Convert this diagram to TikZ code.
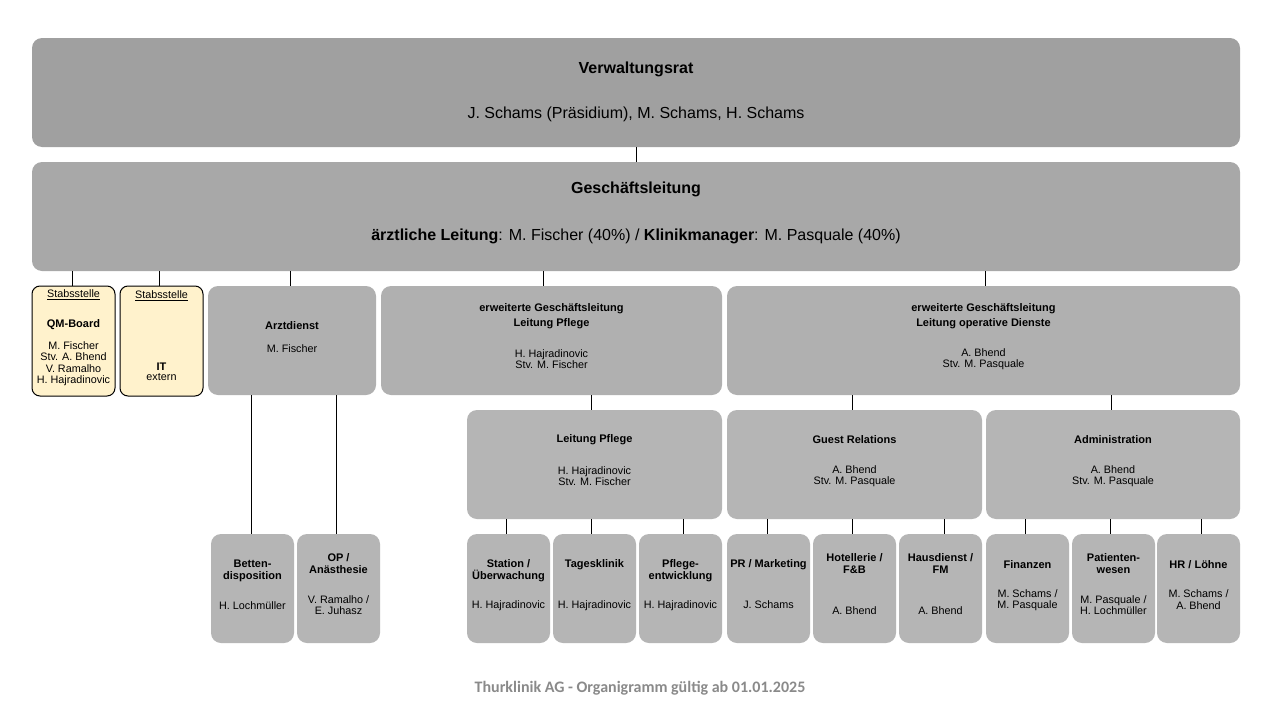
\documentclass[tikz,border=0pt]{standalone}
\usepackage{fontspec}
\setmainfont{Liberation Sans}
\newfontfamily\footfont{Carlito}
\definecolor{vrgray}{RGB}{160,160,160}
\definecolor{glgray}{RGB}{168,168,168}
\definecolor{lvtwo}{RGB}{176,176,176}
\definecolor{lvthree}{RGB}{181,181,181}
\definecolor{cream}{RGB}{255,242,204}
\definecolor{footgray}{RGB}{138,138,138}
\tikzset{
  box/.style={rectangle, rounded corners=10pt, inner sep=0pt, minimum height=109pt},
  staff/.style={rectangle, draw=black, line width=1pt, fill=cream, rounded corners=8pt, inner sep=0pt, minimum width=83pt, minimum height=110pt},
  small/.style={box, fill=lvthree, minimum width=83pt},
  bigtit/.style={font=\fontsize{16}{18}\selectfont\bfseries, inner sep=0pt},
  bignm/.style={font=\fontsize{16}{18}\selectfont, inner sep=0pt},
  tit/.style={font=\fontsize{11}{12}\selectfont\bfseries, align=center, inner sep=0pt},
  nm/.style={font=\fontsize{10.8}{11.4}\selectfont, align=center, inner sep=0pt},
  conn/.style={draw=black, line width=1pt}
}
\begin{document}
\begin{tikzpicture}[x=1pt,y=-1pt]
\useasboundingbox (0,0) rectangle (1280,720);
\fill[white] (0,0) rectangle (1280,720);

% top levels
\node[box, fill=vrgray, minimum width=1208pt] (vr) at (636,92.5) {};
\node[bigtit] (vr-t) at (636,69) {Verwaltungsrat};
\node[bignm] (vr-n) at (636,114) {J. Schams (Präsidium), M. Schams, H. Schams};

\node[box, fill=glgray, minimum width=1208pt] (gl) at (636,216.5) {};
\node[bigtit] (gl-t) at (636,189) {Geschäftsleitung};
\node[bignm] (gl-n) at (636,236) {\textbf{ärztliche Leitung}: M. Fischer (40\%) / \textbf{Klinikmanager}: M. Pasquale (40\%)};

% second level
\node[staff] (qm) at (73.5,341) {};
\node[nm] (qm-s) at (73.5,294.5) {\underline{Stabsstelle}};
\node[tit] (qm-t) at (73.5,324.3) {QM-Board};
\node[nm] (qm-n) at (73.5,363.7) {M. Fischer\\Stv. A. Bhend\\V. Ramalho\\H. Hajradinovic};

\node[staff] (it) at (161.5,341) {};
\node[nm] (it-s) at (161.5,296) {\underline{Stabsstelle}};
\node[tit] (it-t) at (161.5,366.7) {IT};
\node[nm] (it-n) at (161.5,377.5) {extern};

\node[box, fill=lvtwo, minimum width=168pt] (arzt) at (292,340.5) {};
\node[tit] (arzt-t) at (292,326) {Arztdienst};
\node[nm] (arzt-n) at (292,349) {M. Fischer};

\node[box, fill=lvtwo, minimum width=341pt] (egp) at (551.5,340.5) {};
\node[tit] (egp-t) at (551.5,315.8) {erweiterte Geschäftsleitung\\[3pt]Leitung Pflege};
\node[nm] (egp-n) at (551.5,359) {H. Hajradinovic\\Stv. M. Fischer};

\node[box, fill=lvtwo, minimum width=513pt] (ego) at (983.5,340.5) {};
\node[tit] (ego-t) at (983.5,315.8) {erweiterte Geschäftsleitung\\[3pt]Leitung operative Dienste};
\node[nm] (ego-n) at (983.5,359) {A. Bhend\\Stv. M. Pasquale};

% third level
\node[box, fill=lvthree, minimum width=255pt] (lp) at (594.5,464.5) {};
\node[tit] (lp-t) at (594.5,440) {Leitung Pflege};
\node[nm] (lp-n) at (594.5,476) {H. Hajradinovic\\Stv. M. Fischer};

\node[box, fill=lvthree, minimum width=255pt] (gr) at (854.5,464.5) {};
\node[tit] (gr-t) at (854.5,440) {Guest Relations};
\node[nm] (gr-n) at (854.5,476) {A. Bhend\\Stv. M. Pasquale};

\node[box, fill=lvthree, minimum width=254pt] (adm) at (1113,464.5) {};
\node[tit] (adm-t) at (1113,440) {Administration};
\node[nm] (adm-n) at (1113,476) {A. Bhend\\Stv. M. Pasquale};

% bottom row
\node[small] (bett) at (252.5,588.5) {};
\node[tit] (bett-t) at (252.5,570.5) {Betten-\\disposition};
\node[nm] (bett-n) at (252.5,606) {H. Lochmüller};

\node[small] (op) at (338.5,588.5) {};
\node[tit] (op-t) at (338.5,563.8) {OP /\\Anästhesie};
\node[nm] (op-n) at (338.5,605.3) {V. Ramalho /\\E. Juhasz};

\node[small] (st) at (508.5,588.5) {};
\node[tit] (st-t) at (508.5,570.5) {Station /\\Überwachung};
\node[nm] (st-n) at (508.5,606) {H. Hajradinovic};

\node[small] (tk) at (594.5,588.5) {};
\node[tit] (tk-t) at (594.5,564.3) {Tagesklinik};
\node[nm] (tk-n) at (594.5,606) {H. Hajradinovic};

\node[small] (pe) at (680.5,588.5) {};
\node[tit] (pe-t) at (680.5,570.5) {Pflege-\\entwicklung};
\node[nm] (pe-n) at (680.5,606) {H. Hajradinovic};

\node[small] (pr) at (768.5,588.5) {};
\node[tit] (pr-t) at (768.5,564.3) {PR / Marketing};
\node[nm] (pr-n) at (768.5,605) {J. Schams};

\node[small] (ho) at (854.5,588.5) {};
\node[tit] (ho-t) at (854.5,564) {Hotellerie /\\F\&B};
\node[nm] (ho-n) at (854.5,610.5) {A. Bhend};

\node[small] (hd) at (940.5,588.5) {};
\node[tit] (hd-t) at (940.5,564) {Hausdienst /\\FM};
\node[nm] (hd-n) at (940.5,610.5) {A. Bhend};

\node[small] (fi) at (1027.5,588.5) {};
\node[tit] (fi-t) at (1027.5,564.3) {Finanzen};
\node[nm] (fi-n) at (1027.5,600) {M. Schams /\\M. Pasquale};

\node[small] (pw) at (1113.5,588.5) {};
\node[tit] (pw-t) at (1113.5,564) {Patienten-\\wesen};
\node[nm] (pw-n) at (1113.5,605.3) {M. Pasquale /\\H. Lochmüller};

\node[small] (hr) at (1198.5,588.5) {};
\node[tit] (hr-t) at (1198.5,564.3) {HR / Löhne};
\node[nm] (hr-n) at (1198.5,599.5) {M. Schams /\\A. Bhend};

% connectors
\draw[conn] (vr.south) -- (gl.north);
\draw[conn] ([xshift=-1.5pt]qm.north) -- ([xshift=-1.5pt]qm.north |- gl.south);
\draw[conn] ([xshift=-2.5pt]it.north) -- ([xshift=-2.5pt]it.north |- gl.south);
\draw[conn] ([xshift=-2pt]arzt.north) -- ([xshift=-2pt]arzt.north |- gl.south);
\draw[conn] ([xshift=-8.5pt]egp.north) -- ([xshift=-8.5pt]egp.north |- gl.south);
\draw[conn] ([xshift=1.5pt]ego.north) -- ([xshift=1.5pt]ego.north |- gl.south);

\draw[conn] ([xshift=-1.5pt]bett.north) -- ([xshift=-1.5pt]bett.north |- arzt.south);
\draw[conn] ([xshift=-2.5pt]op.north) -- ([xshift=-2.5pt]op.north |- arzt.south);

\draw[conn] ([xshift=-3.5pt]lp.north) -- ([xshift=-3.5pt]lp.north |- egp.south);
\draw[conn] ([xshift=-2.5pt]gr.north) -- ([xshift=-2.5pt]gr.north |- ego.south);
\draw[conn] ([xshift=-2pt]adm.north) -- ([xshift=-2pt]adm.north |- ego.south);

\draw[conn] ([xshift=-2.5pt]st.north) -- ([xshift=-2.5pt]st.north |- lp.south);
\draw[conn] ([xshift=-3.5pt]tk.north) -- ([xshift=-3.5pt]tk.north |- lp.south);
\draw[conn] ([xshift=2.5pt]pe.north) -- ([xshift=2.5pt]pe.north |- lp.south);

\draw[conn] ([xshift=-1.5pt]pr.north) -- ([xshift=-1.5pt]pr.north |- gr.south);
\draw[conn] ([xshift=-2.5pt]ho.north) -- ([xshift=-2.5pt]ho.north |- gr.south);
\draw[conn] ([xshift=3.5pt]hd.north) -- ([xshift=3.5pt]hd.north |- gr.south);

\draw[conn] ([xshift=-2.5pt]fi.north) -- ([xshift=-2.5pt]fi.north |- adm.south);
\draw[conn] ([xshift=-3.5pt]pw.north) -- ([xshift=-3.5pt]pw.north |- adm.south);
\draw[conn] ([xshift=2.5pt]hr.north) -- ([xshift=2.5pt]hr.north |- adm.south);

% footer
\node[font=\footfont\fontsize{16}{18}\selectfont\bfseries, text=footgray, inner sep=0pt] (foot) at (640,688) {Thurklinik AG - Organigramm gültig ab 01.01.2025};
\end{tikzpicture}
\end{document}
